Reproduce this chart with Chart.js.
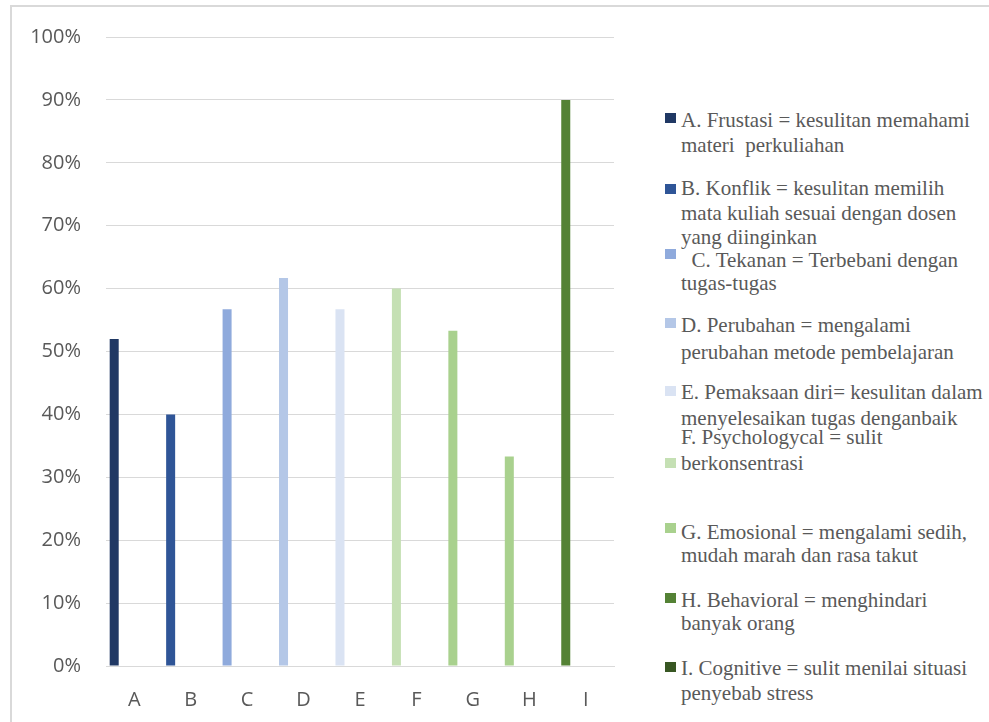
<!DOCTYPE html>
<html>
<head>
<meta charset="utf-8">
<script src="https://cdn.jsdelivr.net/npm/chart.js@4.4.1/dist/chart.umd.min.js"></script>
<style>
  body { margin: 0; background: #fff; width: 989px; height: 722px; overflow: hidden; position: relative; }
  #frame { position: absolute; left: 10px; top: 5px; right: -10px; bottom: -10px; border-left: 2px solid #d9d9d9; border-top: 2px solid #d9d9d9; }
  #chartBox { position: absolute; left: 0; top: 0; width: 640px; height: 722px; }
  .leg-line { position: absolute; left: 681px; font-family: 'Liberation Serif', 'Times New Roman', serif; font-size: 21px; line-height: 24px; color: #595959; white-space: pre; }
  .leg-box { position: absolute; left: 665px; width: 11px; height: 10px; }
</style>
</head>
<body>
<div id="frame"></div>
<div id="chartBox"><canvas id="stressChart" width="640" height="722"></canvas></div>
<div id="legend"></div>
<script>
// categories and values (percent)
const categories = ['A', 'B', 'C', 'D', 'E', 'F', 'G', 'H', 'I'];
const percentages = [52, 40, 56.7, 61.7, 56.7, 60, 53.3, 33.3, 90];
const yTicks = [0, 10, 20, 30, 40, 50, 60, 70, 80, 90, 100];

// legend text, one list of lines per entry
const legendLines = [
    ['A. Frustasi = kesulitan memahami', 'materi  perkuliahan'],
    ['B. Konflik = kesulitan memilih', 'mata kuliah sesuai dengan dosen', 'yang diinginkan'],
    ['  C. Tekanan = Terbebani dengan', 'tugas-tugas'],
    ['D. Perubahan = mengalami', 'perubahan metode pembelajaran'],
    ['E. Pemaksaan diri= kesulitan dalam', 'menyelesaikan tugas denganbaik'],
    ['F. Psychologycal = sulit', 'berkonsentrasi'],
    ['G. Emosional = mengalami sedih,', 'mudah marah dan rasa takut'],
    ['H. Behavioral = menghindari', 'banyak orang'],
    ['I. Cognitive = sulit menilai situasi', 'penyebab stress']
];

const barColors = ['#203864', '#2f5597', '#8faadc', '#b4c7e7', '#dae3f3', '#c5e0b4', '#a9d18e', '#a9d18e', '#548235'];
const legendColors = ['#203864', '#2f5597', '#8faadc', '#b4c7e7', '#dae3f3', '#c5e0b4', '#a9d18e', '#548235', '#385723'];

// legend layout (page y of square top, and y of each text line centre)
const legendBoxTop = [113, 184, 249, 318, 386, 458, 523, 593, 662];
const legendTextY = [
    [120, 145], [188, 213, 237], [260, 283], [325, 352],
    [392, 418], [437, 463], [532, 555], [600, 623], [668, 693]
];

function buildLegend() {
    const legend = document.getElementById('legend');
    legendLines.forEach((lines, i) => {
        const box = document.createElement('div');
        box.className = 'leg-box';
        box.style.top = legendBoxTop[i] + 'px';
        box.style.background = legendColors[i];
        legend.appendChild(box);
        lines.forEach((txt, j) => {
            const line = document.createElement('div');
            line.className = 'leg-line';
            line.style.top = (legendTextY[i][j] - 12) + 'px';
            line.textContent = txt;
            legend.appendChild(line);
        });
    });
}

function drawChart() {
    const ctx = document.getElementById('stressChart').getContext('2d');
    const blank = categories.map(() => null);

    new Chart(ctx, {
        type: 'bar',
        data: {
            labels: categories,
            datasets: [
                { data: percentages, backgroundColor: barColors, borderWidth: 0 },
                // empty companions keep the bars at the left of each slot, as in the original
                { data: blank }, { data: blank }, { data: blank }
            ]
        },
        options: {
            responsive: false,
            animation: false,
            datasets: { bar: { categoryPercentage: 0.946, barPercentage: 0.675 } },
            layout: { padding: { top: 35, right: 26, bottom: 10, left: 0 } },
            plugins: { legend: { display: false }, tooltip: { enabled: false } },
            scales: {
                x: {
                    afterFit: scale => { scale.height = 46; },
                    grid: { display: false, drawTicks: false },
                    border: { display: true, color: '#d9d9d9', width: 1 },
                    ticks: { color: '#595959', font: { family: 'Open Sans', size: 20 }, padding: 22 }
                },
                y: {
                    min: 0,
                    max: 100,
                    afterBuildTicks: scale => { scale.ticks = yTicks.map(v => ({ value: v })); },
                    afterFit: scale => { scale.width = 106; },
                    grid: { color: '#d9d9d9', drawTicks: false },
                    border: { display: false },
                    ticks: {
                        color: '#595959',
                        font: { family: 'Open Sans', size: 20 },
                        padding: 25,
                        callback: v => v + '%'
                    }
                }
            }
        }
    });
}

buildLegend();
drawChart();
</script>
</body>
</html>
